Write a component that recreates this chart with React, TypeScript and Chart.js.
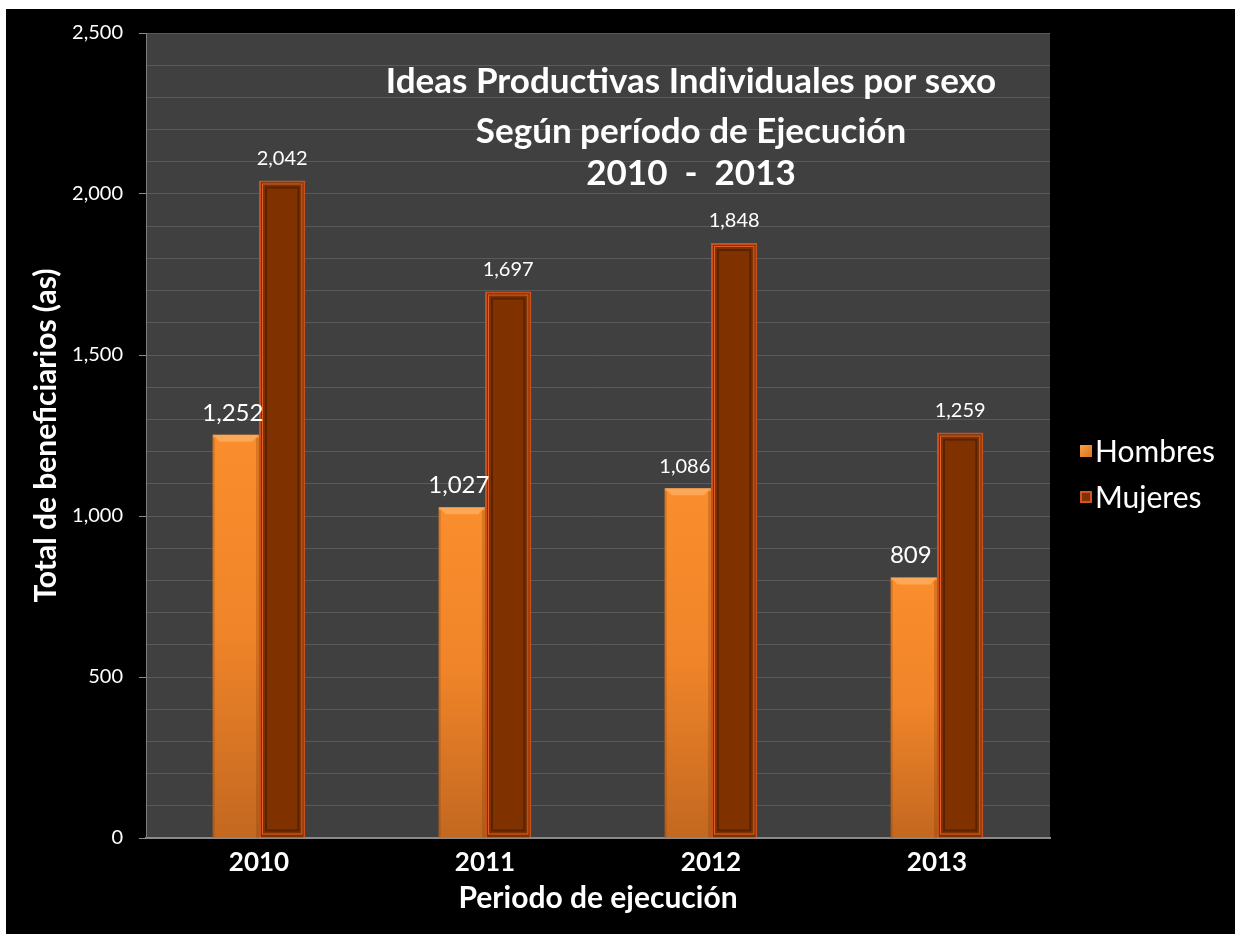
import React, { useEffect, useRef } from "react";
import { Chart, registerables } from "chart.js";

Chart.register(...registerables);

const categories = ["2010", "2011", "2012", "2013"];
const hombres = [1252, 1027, 1086, 809];
const mujeres = [2042, 1697, 1848, 1259];
const seriesNames = ["Hombres", "Mujeres"];
const titleLines = ["Ideas Productivas Individuales por sexo", "Según período de Ejecución", "2010  -  2013"];
const yAxisTitle = "Total de beneficiarios (as)";
const xAxisTitle = "Periodo de ejecución";

const FONT = "Lato, 'Open Sans', sans-serif";
const hombresLabelSizes = [24, 24, 20, 24];
const mujeresLabelSizes = [20, 20, 20, 20];

const fmt = (v: number) => v.toLocaleString("en-US");

const decorPlugin = {
  id: "decor",
  beforeDraw(chart: any) {
    const { ctx, chartArea } = chart;
    if (!chartArea) return;
    ctx.save();
    ctx.fillStyle = "#404040";
    ctx.fillRect(chartArea.left, chartArea.top, chartArea.right - chartArea.left, chartArea.bottom - chartArea.top);
    ctx.restore();
  },
  afterDatasetsDraw(chart: any) {
    const { ctx } = chart;
    ctx.save();
    const m0 = chart.getDatasetMeta(0);
    m0.data.forEach((bar: any) => {
      const l = bar.x - bar.width / 2;
      const r = bar.x + bar.width / 2;
      const t = bar.y;
      const b = bar.base;
      const bv = 7;
      ctx.fillStyle = "rgba(255,200,140,0.45)";
      ctx.beginPath();
      ctx.moveTo(l, t);
      ctx.lineTo(r, t);
      ctx.lineTo(r - bv, t + bv);
      ctx.lineTo(l + bv, t + bv);
      ctx.closePath();
      ctx.fill();
      ctx.fillStyle = "rgba(120,50,0,0.25)";
      ctx.fillRect(r - 3, t + 3, 3, b - t - 3);
      ctx.fillRect(l, t + 3, 2, b - t - 3);
    });
    const m1 = chart.getDatasetMeta(1);
    m1.data.forEach((bar: any) => {
      const l = bar.x - bar.width / 2;
      const r = bar.x + bar.width / 2;
      const t = bar.y;
      const b = bar.base;
      ctx.strokeStyle = "#E0602A";
      ctx.lineWidth = 1;
      ctx.strokeRect(l + 3.5, t + 3.5, r - l - 7, b - t - 7);
      ctx.strokeStyle = "#5a2200";
      ctx.lineWidth = 2;
      ctx.strokeRect(l + 7, t + 7, r - l - 14, b - t - 14);
    });
    ctx.fillStyle = "#ffffff";
    ctx.textAlign = "center";
    ctx.textBaseline = "middle";
    [m0, m1].forEach((meta: any, di: number) => {
      const vals = di === 0 ? hombres : mujeres;
      const sizes = di === 0 ? hombresLabelSizes : mujeresLabelSizes;
      meta.data.forEach((bar: any, i: number) => {
        ctx.font = `${sizes[i]}px ${FONT}`;
        ctx.fillText(fmt(vals[i]), bar.x - (di === 0 ? 3 : 0), bar.y - 22);
      });
    });
    ctx.restore();
  },
  afterDraw(chart: any) {
    const { ctx } = chart;
    ctx.save();
    ctx.fillStyle = "#ffffff";
    ctx.textAlign = "center";
    ctx.textBaseline = "middle";
    ctx.font = `bold 35px ${FONT}`;
    const cx = 685;
    const ys = [73, 123, 165];
    titleLines.forEach((t, i) => ctx.fillText(t, cx, ys[i]));
    const lx = 1074;
    const ly = [442, 488];
    ctx.font = `30px ${FONT}`;
    ctx.textAlign = "left";
    seriesNames.forEach((n, i) => {
      const y = ly[i];
      if (i === 0) {
        const g = ctx.createLinearGradient(lx, y - 6, lx + 12, y + 6);
        g.addColorStop(0, "#FBA045");
        g.addColorStop(1, "#D9721F");
        ctx.fillStyle = g;
        ctx.fillRect(lx, y - 6, 12, 12);
      } else {
        ctx.fillStyle = "#D4541B";
        ctx.fillRect(lx, y - 6, 12, 12);
        ctx.fillStyle = "#7F3200";
        ctx.fillRect(lx + 2, y - 4, 8, 8);
      }
      ctx.fillStyle = "#ffffff";
      ctx.fillText(n, lx + 15, y + 1);
    });
    ctx.restore();
  },
};

export default function App() {
  const ref = useRef<HTMLCanvasElement>(null);
  useEffect(() => {
    if (!ref.current) return;
    const chart = new Chart(ref.current, {
      type: "bar",
      data: {
        labels: categories,
        datasets: [
          {
            label: seriesNames[0],
            data: hombres,
            backgroundColor: (c: any) => {
              const chart = c.chart;
              if (!chart.chartArea || c.raw === undefined || !chart.scales?.y) return "#F68A2A";
              const top = chart.scales.y.getPixelForValue(c.raw);
              const bottom = chart.scales.y.getPixelForValue(0);
              const g = chart.ctx.createLinearGradient(0, top, 0, bottom);
              g.addColorStop(0, "#FA8E2D");
              g.addColorStop(0.5, "#EF8429");
              g.addColorStop(1, "#C36820");
              return g;
            },
            borderWidth: 0,
          },
          {
            label: seriesNames[1],
            data: mujeres,
            backgroundColor: "#7F3200",
            borderColor: "#C9501A",
            borderWidth: 2,
          },
        ],
      },
      options: {
        responsive: true,
        maintainAspectRatio: false,
        animation: false,
        layout: { padding: { top: 24, right: 185, left: 0, bottom: 0 } },
        plugins: {
          legend: { display: false },
          tooltip: { enabled: false },
          title: { display: false },
        },
        datasets: {
          bar: { categoryPercentage: 0.41, barPercentage: 1 },
        },
        scales: {
          x: {
            grid: { display: true, drawOnChartArea: false, drawTicks: false, color: "transparent" },
            border: { display: true, color: "#8a8a8a", width: 2 },
            ticks: { color: "#ffffff", font: { family: FONT, size: 26, weight: "bold" }, padding: 9 },
            title: {
              display: true,
              text: xAxisTitle,
              color: "#ffffff",
              font: { family: FONT, size: 30, weight: "bold" },
              padding: { top: 0, bottom: 18 },
            },
            afterFit: (s: any) => {
              s.height = 96;
            },
          },
          y: {
            min: 0,
            max: 2500,
            grid: {
              color: "#5a5a5a",
              lineWidth: 1,
              tickLength: 7,
              tickColor: (c: any) => (c.tick && c.tick.value % 500 === 0 ? "#8a8a8a" : "transparent"),
            },
            border: { display: true, color: "#7f7f7f", width: 1 },
            ticks: {
              stepSize: 100,
              autoSkip: false,
              color: "#ffffff",
              padding: 16,
              font: { family: FONT, size: 20 },
              callback: (v: any) => (Number(v) % 500 === 0 ? fmt(Number(v)) : ""),
            },
            title: {
              display: true,
              text: yAxisTitle,
              color: "#ffffff",
              font: { family: FONT, size: 30, weight: "bold" },
              padding: { top: 22, bottom: 0 },
            },
            afterFit: (s: any) => {
              s.width = 140;
              s.paddingTop = 0;
              s.paddingBottom = 0;
            },
          },
        },
      },
      plugins: [decorPlugin],
    } as any);
    return () => chart.destroy();
  }, []);
  return (
    <div style={{ position: "fixed", left: 6, top: 9, width: 1229, height: 925, background: "#000" }}>
      <canvas ref={ref} />
    </div>
  );
}
